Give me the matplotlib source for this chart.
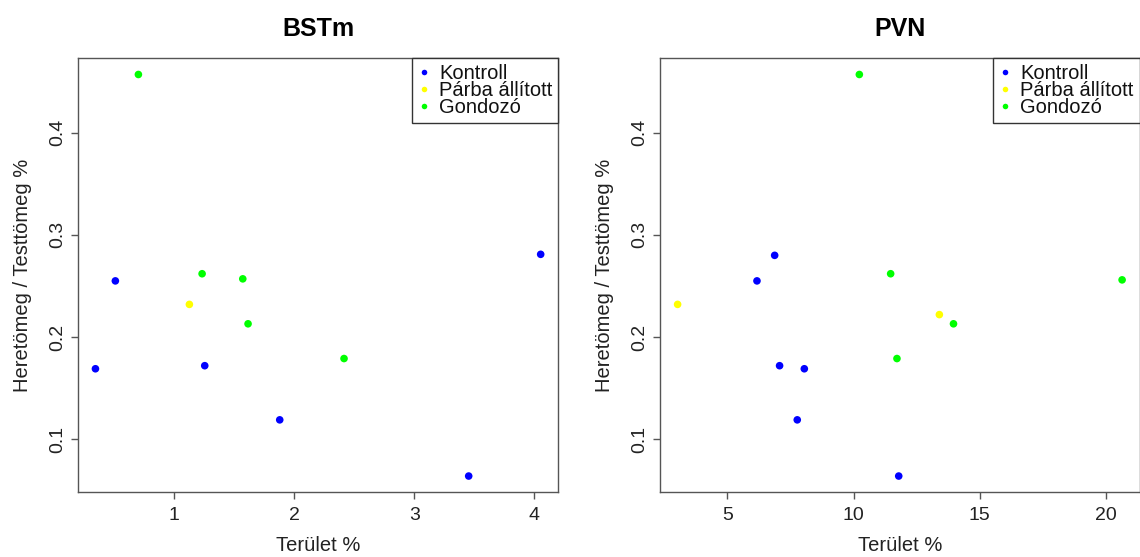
import matplotlib
matplotlib.use("Agg")
import matplotlib.pyplot as plt
from matplotlib.lines import Line2D

plt.rcParams['font.family'] = ['Liberation Sans', 'DejaVu Sans']

# ---------------------------------------------------------------
# Data (Terület % vs Heretömeg / Testtömeg %)
# ---------------------------------------------------------------
groups = ['Kontroll', 'Párba állított', 'Gondozó']
colors = ['#0000FF', '#FFFF00', '#00FF00']

# BSTm panel
bstm_kontroll_x = [0.342, 0.508, 1.253, 1.878, 3.453, 4.053]
bstm_kontroll_y = [0.169, 0.255, 0.172, 0.119, 0.064, 0.281]
bstm_parba_x = [1.125]
bstm_parba_y = [0.232]
bstm_gondozo_x = [0.700, 1.231, 1.570, 1.614, 2.414]
bstm_gondozo_y = [0.457, 0.262, 0.257, 0.213, 0.179]

# PVN panel
pvn_kontroll_x = [6.174, 6.875, 7.070, 8.050, 7.770, 11.790]
pvn_kontroll_y = [0.255, 0.280, 0.172, 0.169, 0.119, 0.064]
pvn_parba_x = [3.03, 13.40]
pvn_parba_y = [0.232, 0.222]
pvn_gondozo_x = [10.23, 11.47, 11.72, 20.64, 13.96]
pvn_gondozo_y = [0.457, 0.262, 0.179, 0.256, 0.213]

y_ticks = [0.1, 0.2, 0.3, 0.4]
bstm_xticks = [1, 2, 3, 4]
pvn_xticks = [5, 10, 15, 20]

panels = [
    ('BSTm', [(bstm_kontroll_x, bstm_kontroll_y), (bstm_parba_x, bstm_parba_y),
              (bstm_gondozo_x, bstm_gondozo_y)], bstm_xticks),
    ('PVN', [(pvn_kontroll_x, pvn_kontroll_y), (pvn_parba_x, pvn_parba_y),
             (pvn_gondozo_x, pvn_gondozo_y)], pvn_xticks),
]


def r_range(values):
    '''R style axis range: data range padded by 4% on each side'''
    lo, hi = min(values), max(values)
    pad = (hi - lo) * 0.04
    return lo - pad, hi + pad


fig = plt.figure(figsize=(11.4, 5.57), dpi=100)
positions = [[0.0681, 0.1165, 0.4218, 0.7786], [0.5788, 0.1165, 0.4211, 0.7786]]
spine_col = '#555555'

for pos, (title, series, xticks) in zip(positions, panels):
    ax = fig.add_axes(pos)
    all_x, all_y = [], []
    for (xs, ys), col in zip(series, colors):
        ax.scatter(xs, ys, s=30, color=col, edgecolors='none', zorder=3)
        all_x += xs
        all_y += ys

    ax.set_xlim(*r_range(all_x))
    ax.set_ylim(*r_range(all_y))
    ax.set_xticks(xticks)
    ax.set_xticklabels([str(t) for t in xticks])
    ax.set_yticks(y_ticks)
    ax.set_yticklabels([str(t) for t in y_ticks])

    for sp in ax.spines.values():
        sp.set_color(spine_col)
        sp.set_linewidth(1.0)
    ax.tick_params(axis='both', direction='out', length=5, width=1.0,
                   color=spine_col, labelsize=14, labelcolor='#222222')
    ax.tick_params(axis='x', pad=5.5)
    ax.tick_params(axis='y', pad=3.5, labelrotation=90)
    for lab in ax.get_yticklabels():
        lab.set_va('center')

    ax.set_title(title, fontsize=18, fontweight='bold', pad=16)
    ax.set_xlabel('Terület %', fontsize=14.5, color='#222222', labelpad=9)
    ax.set_ylabel('Heretömeg / Testtömeg %', fontsize=14.5, color='#222222', labelpad=12)

    handles = [Line2D([], [], linestyle='none', marker='o', markersize=4,
                      markerfacecolor=c, markeredgecolor='none') for c in colors]
    leg = ax.legend(handles, groups, loc='upper right', borderaxespad=0,
                    fontsize=14.5, fancybox=False, framealpha=1,
                    edgecolor='#333333', labelspacing=-0.1, handlelength=0.6,
                    handletextpad=0.45, borderpad=0.3)
    leg.get_frame().set_linewidth(1.0)
    for t in leg.get_texts():
        t.set_color('#111111')

fig.savefig('out.png', dpi=100)
